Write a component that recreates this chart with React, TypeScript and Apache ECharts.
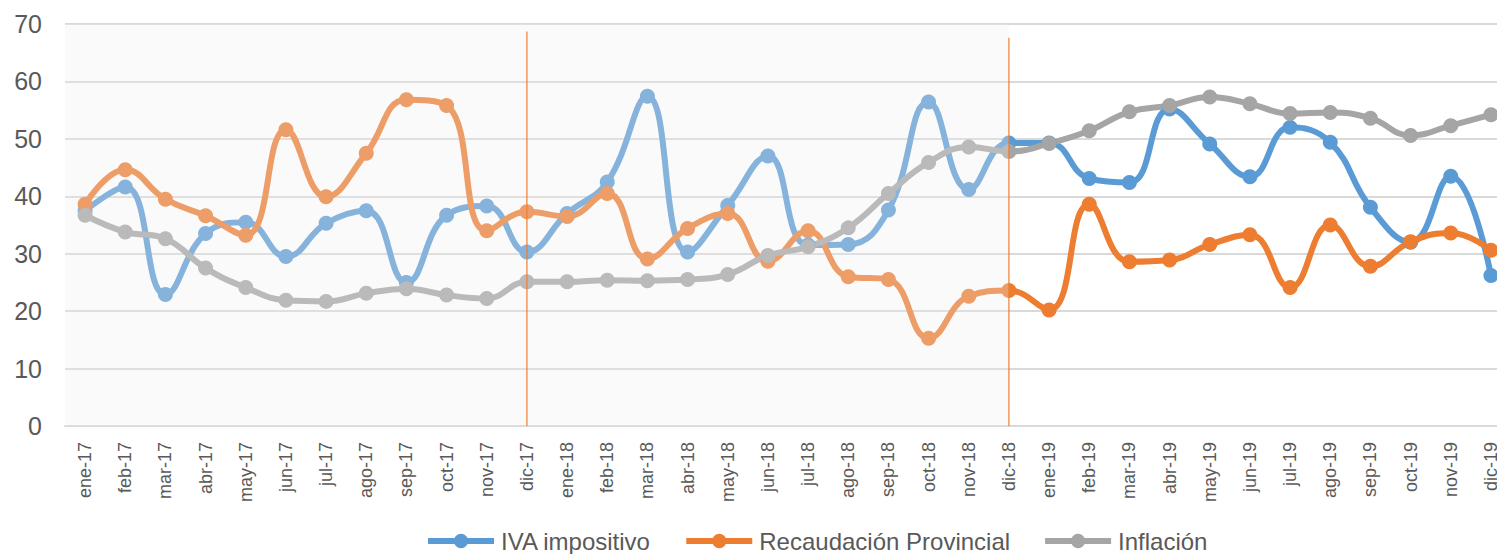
import React, { useEffect, useRef } from "react";
import * as echarts from "echarts";

const categories = [
  "ene-17", "feb-17", "mar-17", "abr-17", "may-17", "jun-17", "jul-17", "ago-17", "sep-17", "oct-17", "nov-17", "dic-17",
  "ene-18", "feb-18", "mar-18", "abr-18", "may-18", "jun-18", "jul-18", "ago-18", "sep-18", "oct-18", "nov-18", "dic-18",
  "ene-19", "feb-19", "mar-19", "abr-19", "may-19", "jun-19", "jul-19", "ago-19", "sep-19", "oct-19", "nov-19", "dic-19",
];

const iva = [
  37.5, 41.6, 22.9, 33.5, 35.5, 29.5, 35.3, 37.5, 25.0, 36.7, 38.3, 30.3,
  37.0, 42.5, 57.4, 30.3, 38.4, 47.0, 31.5, 31.6, 37.6, 56.4, 41.2, 49.3,
  49.3, 43.1, 42.4, 55.2, 49.1, 43.4, 52.0, 49.4, 38.1, 32.0, 43.5, 26.2,
];

const recaudacion = [
  38.6, 44.6, 39.5, 36.6, 33.2, 51.6, 39.9, 47.5, 56.8, 55.8, 34.0, 37.3,
  36.5, 40.5, 29.1, 34.4, 37.0, 28.7, 34.0, 26.0, 25.5, 15.3, 22.6, 23.6,
  20.2, 38.6, 28.6, 28.9, 31.6, 33.3, 24.1, 35.0, 27.8, 32.1, 33.6, 30.6,
];

const inflacion = [
  36.7, 33.8, 32.6, 27.5, 24.1, 21.9, 21.7, 23.1, 23.9, 22.8, 22.2, 25.1,
  25.1, 25.4, 25.3, 25.5, 26.4, 29.7, 31.2, 34.5, 40.5, 45.9, 48.6, 47.8,
  49.2, 51.4, 54.7, 55.8, 57.3, 56.1, 54.4, 54.6, 53.6, 50.6, 52.3, 54.2,
];

const yTicks = [0, 10, 20, 30, 40, 50, 60, 70];
const dividers = [
  { cat: "dic-17", top: 68.7 },
  { cat: "dic-18", top: 67.6 },
];
const shadeEnd = "dic-18";

const FONT = "'Liberation Sans', Arial, sans-serif";
const BLUE = "#5b9bd5";
const ORANGE = "#ed7d31";
const GREY = "#a5a5a5";

export default function App() {
  const ref = useRef<HTMLDivElement>(null);

  useEffect(() => {
    document.body.style.margin = "0";
    document.body.style.overflow = "hidden";
    const chart = echarts.init(ref.current!, undefined, { renderer: "svg" });
    const mkSeries = (name: string, data: number[], color: string) => ({
      name,
      type: "line",
      data,
      smooth: 0.45,
      symbol: "circle",
      symbolSize: 15,
      itemStyle: { color },
      lineStyle: { color, width: 6 },
      emphasis: { disabled: true },
    });
    const gridLeft = 65;
    const option: any = {
      animation: false,
      backgroundColor: "#ffffff",
      grid: { left: gridLeft, right: 0, top: 24, bottom: 128, containLabel: false },
      xAxis: {
        type: "category",
        data: categories,
        boundaryGap: true,
        axisTick: { show: false },
        axisLine: { show: true, lineStyle: { color: "#d9d9d9", width: 2 } },
        axisLabel: {
          rotate: 90,
          interval: 0,
          margin: 16,
          color: "#595959",
          fontSize: 18,
          fontFamily: FONT,
        },
      },
      yAxis: {
        type: "value",
        min: yTicks[0],
        max: yTicks[yTicks.length - 1],
        interval: 10,
        axisLine: { show: false },
        axisTick: { show: false },
        splitLine: { lineStyle: { color: "#d9d9d9", width: 2 } },
        axisLabel: { color: "#595959", fontSize: 25, fontFamily: FONT, margin: 23 },
      },
      legend: {
        left: 420,
        top: 524,
        itemWidth: 66,
        itemHeight: 18,
        itemGap: 32,
        lineStyle: { width: 6 },
        textStyle: { color: "#595959", fontSize: 24, fontFamily: FONT, padding: [0, 0, 0, 2] },
        data: ["IVA impositivo", "Recaudación Provincial", "Inflación"],
      },
      series: [
        mkSeries("IVA impositivo", iva, BLUE),
        mkSeries("Recaudación Provincial", recaudacion, ORANGE),
        mkSeries("Inflación", inflacion, GREY),
      ],
    };
    chart.setOption(option);

    const yTop = chart.convertToPixel({ yAxisIndex: 0 }, yTicks[yTicks.length - 1]) as number;
    const yBottom = chart.convertToPixel({ yAxisIndex: 0 }, 0) as number;
    const xEnd = chart.convertToPixel({ xAxisIndex: 0 }, shadeEnd) as number;
    const graphics: any[] = [
      {
        type: "rect",
        z: 10,
        silent: true,
        shape: { x: gridLeft, y: yTop, width: xEnd - gridLeft, height: yBottom - yTop },
        style: { fill: "rgba(238,238,238,0.29)" },
      },
    ];
    dividers.forEach((d) => {
      const x = chart.convertToPixel({ xAxisIndex: 0 }, d.cat) as number;
      const y1 = chart.convertToPixel({ yAxisIndex: 0 }, d.top) as number;
      graphics.push({
        type: "line",
        z: 11,
        silent: true,
        shape: { x1: x, y1, x2: x, y2: yBottom },
        style: { stroke: ORANGE, lineWidth: 1.2 },
      });
    });
    chart.setOption({ graphic: graphics });

    return () => chart.dispose();
  }, []);

  return (
    <div style={{ width: 1497, height: 554, overflow: "hidden", position: "relative" }}>
      <div ref={ref} style={{ width: 1511, height: 554 }} />
    </div>
  );
}
